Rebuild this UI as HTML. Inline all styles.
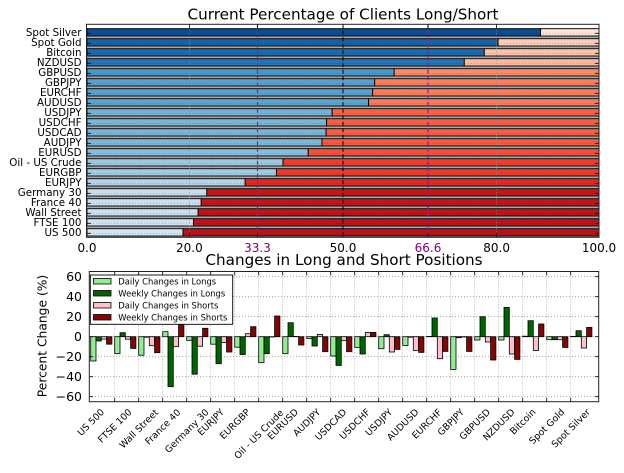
<!DOCTYPE html>
<html><head><meta charset="utf-8"><style>
html,body{margin:0;padding:0;background:#fff;}
svg{display:block;font-family:"DejaVu Sans","Liberation Sans",sans-serif;}
</style></head><body>
<svg width="624" height="473" viewBox="0 0 624 473" xmlns="http://www.w3.org/2000/svg">
<rect width="624" height="473" fill="#fff"/>
<!-- ===== TOP CHART ===== -->
<text x="343" y="19.5" font-size="15.2" text-anchor="middle" fill="#000">Current Percentage of Clients Long/Short</text>
<rect x="87" y="28.2" width="512" height="208.6" fill="#a9a9a9"/>
<g stroke="#000" stroke-width="0.9">
<rect x="87" y="28.7" width="453.6" height="7.3" fill="#084e98"/><rect x="540.6" y="28.7" width="58.4" height="7.3" fill="#fee2d5"/>
<rect x="87" y="38.7" width="411.1" height="7.3" fill="#1663aa"/><rect x="498.1" y="38.7" width="100.9" height="7.3" fill="#fdcbb6"/>
<rect x="87" y="48.7" width="397.3" height="7.3" fill="#1c6ab0"/><rect x="484.3" y="48.7" width="114.7" height="7.3" fill="#fcc3ab"/>
<rect x="87" y="58.7" width="377.3" height="7.3" fill="#2474b7"/><rect x="464.3" y="58.7" width="134.7" height="7.3" fill="#fcb79c"/>
<rect x="87" y="68.7" width="307.2" height="7.3" fill="#4a98c9"/><rect x="394.2" y="68.7" width="204.8" height="7.3" fill="#fc8a6a"/>
<rect x="87" y="78.7" width="287.7" height="7.3" fill="#57a0ce"/><rect x="374.7" y="78.7" width="224.3" height="7.3" fill="#fc7e5e"/>
<rect x="87" y="88.7" width="285.7" height="7.3" fill="#58a1cf"/><rect x="372.7" y="88.7" width="226.3" height="7.3" fill="#fc7d5d"/>
<rect x="87" y="98.7" width="281.6" height="7.3" fill="#5ba3d0"/><rect x="368.6" y="98.7" width="230.4" height="7.3" fill="#fb7a5a"/>
<rect x="87" y="108.7" width="245.2" height="7.3" fill="#74b3d8"/><rect x="332.2" y="108.7" width="266.8" height="7.3" fill="#f96245"/>
<rect x="87" y="118.7" width="239.6" height="7.3" fill="#78b5d9"/><rect x="326.6" y="118.7" width="272.4" height="7.3" fill="#f85e42"/>
<rect x="87" y="128.7" width="239.1" height="7.3" fill="#79b5d9"/><rect x="326.1" y="128.7" width="272.9" height="7.3" fill="#f85e42"/>
<rect x="87" y="138.7" width="235" height="7.3" fill="#7cb7da"/><rect x="322" y="138.7" width="277" height="7.3" fill="#f75a40"/>
<rect x="87" y="148.7" width="221.2" height="7.3" fill="#87bddc"/><rect x="308.2" y="148.7" width="290.8" height="7.3" fill="#f55039"/>
<rect x="87" y="158.7" width="196.1" height="7.3" fill="#9bc8e0"/><rect x="283.1" y="158.7" width="315.9" height="7.3" fill="#f03d2e"/>
<rect x="87" y="168.7" width="189.4" height="7.3" fill="#a0cbe2"/><rect x="276.4" y="168.7" width="322.6" height="7.3" fill="#ee3a2c"/>
<rect x="87" y="178.7" width="158.2" height="7.3" fill="#b3d3e8"/><rect x="245.2" y="178.7" width="353.8" height="7.3" fill="#e22924"/>
<rect x="87" y="188.7" width="119.8" height="7.3" fill="#c9ddf0"/><rect x="206.8" y="188.7" width="392.2" height="7.3" fill="#c6161b"/>
<rect x="87" y="198.7" width="114.2" height="7.3" fill="#cbdff1"/><rect x="201.2" y="198.7" width="397.8" height="7.3" fill="#c3151a"/>
<rect x="87" y="208.7" width="111.1" height="7.3" fill="#ccdff1"/><rect x="198.1" y="208.7" width="400.9" height="7.3" fill="#c1141a"/>
<rect x="87" y="218.7" width="106.5" height="7.3" fill="#cee0f2"/><rect x="193.5" y="218.7" width="405.5" height="7.3" fill="#be131a"/>
<rect x="87" y="228.7" width="96" height="7.3" fill="#d2e3f3"/><rect x="183" y="228.7" width="416" height="7.3" fill="#b81419"/>
</g>
<!-- horizontal dotted grid + side ticks -->
<g stroke="#000" stroke-opacity="0.3" stroke-width="0.6" stroke-dasharray="1,2">
<line x1="87" x2="599" y1="33.3" y2="33.3"/><line x1="87" x2="599" y1="43.3" y2="43.3"/><line x1="87" x2="599" y1="53.3" y2="53.3"/><line x1="87" x2="599" y1="63.3" y2="63.3"/><line x1="87" x2="599" y1="73.3" y2="73.3"/><line x1="87" x2="599" y1="83.3" y2="83.3"/><line x1="87" x2="599" y1="93.3" y2="93.3"/><line x1="87" x2="599" y1="103.3" y2="103.3"/><line x1="87" x2="599" y1="113.3" y2="113.3"/><line x1="87" x2="599" y1="123.3" y2="123.3"/><line x1="87" x2="599" y1="133.3" y2="133.3"/><line x1="87" x2="599" y1="143.3" y2="143.3"/><line x1="87" x2="599" y1="153.3" y2="153.3"/><line x1="87" x2="599" y1="163.3" y2="163.3"/><line x1="87" x2="599" y1="173.3" y2="173.3"/><line x1="87" x2="599" y1="183.3" y2="183.3"/><line x1="87" x2="599" y1="193.3" y2="193.3"/><line x1="87" x2="599" y1="203.3" y2="203.3"/><line x1="87" x2="599" y1="213.3" y2="213.3"/><line x1="87" x2="599" y1="223.3" y2="223.3"/><line x1="87" x2="599" y1="233.3" y2="233.3"/>
</g>
<g stroke="#888" stroke-width="0.8" stroke-dasharray="1,2">
<line x1="189.4" x2="189.4" y1="24.3" y2="237.3"/><line x1="496.6" x2="496.6" y1="24.3" y2="237.3"/>
</g>
<line x1="343" x2="343" y1="24.3" y2="237.3" stroke="#000" stroke-width="1" stroke-dasharray="4,2.5"/>
<line x1="257.5" x2="257.5" y1="24.3" y2="237.3" stroke="#882288" stroke-width="1.2" stroke-dasharray="4,2.5"/>
<line x1="428" x2="428" y1="24.3" y2="237.3" stroke="#882288" stroke-width="1.2" stroke-dasharray="4,2.5"/>
<g stroke="#000" stroke-width="0.8">
<line x1="87" x2="91" y1="33.3" y2="33.3"/><line x1="87" x2="91" y1="43.3" y2="43.3"/><line x1="87" x2="91" y1="53.3" y2="53.3"/><line x1="87" x2="91" y1="63.3" y2="63.3"/><line x1="87" x2="91" y1="73.3" y2="73.3"/><line x1="87" x2="91" y1="83.3" y2="83.3"/><line x1="87" x2="91" y1="93.3" y2="93.3"/><line x1="87" x2="91" y1="103.3" y2="103.3"/><line x1="87" x2="91" y1="113.3" y2="113.3"/><line x1="87" x2="91" y1="123.3" y2="123.3"/><line x1="87" x2="91" y1="133.3" y2="133.3"/><line x1="87" x2="91" y1="143.3" y2="143.3"/><line x1="87" x2="91" y1="153.3" y2="153.3"/><line x1="87" x2="91" y1="163.3" y2="163.3"/><line x1="87" x2="91" y1="173.3" y2="173.3"/><line x1="87" x2="91" y1="183.3" y2="183.3"/><line x1="87" x2="91" y1="193.3" y2="193.3"/><line x1="87" x2="91" y1="203.3" y2="203.3"/><line x1="87" x2="91" y1="213.3" y2="213.3"/><line x1="87" x2="91" y1="223.3" y2="223.3"/><line x1="87" x2="91" y1="233.3" y2="233.3"/>
<line x1="595" x2="599" y1="33.3" y2="33.3"/><line x1="595" x2="599" y1="43.3" y2="43.3"/><line x1="595" x2="599" y1="53.3" y2="53.3"/><line x1="595" x2="599" y1="63.3" y2="63.3"/><line x1="595" x2="599" y1="73.3" y2="73.3"/><line x1="595" x2="599" y1="83.3" y2="83.3"/><line x1="595" x2="599" y1="93.3" y2="93.3"/><line x1="595" x2="599" y1="103.3" y2="103.3"/><line x1="595" x2="599" y1="113.3" y2="113.3"/><line x1="595" x2="599" y1="123.3" y2="123.3"/><line x1="595" x2="599" y1="133.3" y2="133.3"/><line x1="595" x2="599" y1="143.3" y2="143.3"/><line x1="595" x2="599" y1="153.3" y2="153.3"/><line x1="595" x2="599" y1="163.3" y2="163.3"/><line x1="595" x2="599" y1="173.3" y2="173.3"/><line x1="595" x2="599" y1="183.3" y2="183.3"/><line x1="595" x2="599" y1="193.3" y2="193.3"/><line x1="595" x2="599" y1="203.3" y2="203.3"/><line x1="595" x2="599" y1="213.3" y2="213.3"/><line x1="595" x2="599" y1="223.3" y2="223.3"/><line x1="595" x2="599" y1="233.3" y2="233.3"/>
<line x1="189.4" x2="189.4" y1="237.3" y2="233.3"/><line x1="257.5" x2="257.5" y1="237.3" y2="233.3"/><line x1="343" x2="343" y1="237.3" y2="233.3"/><line x1="428" x2="428" y1="237.3" y2="233.3"/><line x1="496.6" x2="496.6" y1="237.3" y2="233.3"/>
<line x1="189.4" x2="189.4" y1="24.3" y2="28.3"/><line x1="257.5" x2="257.5" y1="24.3" y2="28.3"/><line x1="343" x2="343" y1="24.3" y2="28.3"/><line x1="428" x2="428" y1="24.3" y2="28.3"/><line x1="496.6" x2="496.6" y1="24.3" y2="28.3"/>
</g>
<rect x="86.5" y="24.3" width="512.5" height="213" fill="none" stroke="#222" stroke-width="1"/>
<g font-size="10.3" text-anchor="end" fill="#000">
<text x="81.5" y="36.1">Spot Silver</text><text x="81.5" y="46.1">Spot Gold</text><text x="81.5" y="56.1">Bitcoin</text><text x="81.5" y="66.1">NZDUSD</text><text x="81.5" y="76.1">GBPUSD</text><text x="81.5" y="86.1">GBPJPY</text><text x="81.5" y="96.1">EURCHF</text><text x="81.5" y="106.1">AUDUSD</text><text x="81.5" y="116.1">USDJPY</text><text x="81.5" y="126.1">USDCHF</text><text x="81.5" y="136.1">USDCAD</text><text x="81.5" y="146.1">AUDJPY</text><text x="81.5" y="156.1">EURUSD</text><text x="81.5" y="166.1">Oil - US Crude</text><text x="81.5" y="176.1">EURGBP</text><text x="81.5" y="186.1">EURJPY</text><text x="81.5" y="196.1">Germany 30</text><text x="81.5" y="206.1">France 40</text><text x="81.5" y="216.1">Wall Street</text><text x="81.5" y="226.1">FTSE 100</text><text x="81.5" y="236.1">US 500</text>
</g>
<g font-size="12" text-anchor="middle" fill="#000">
<text x="87" y="252">0.0</text><text x="189.4" y="252">20.0</text><text x="257.5" y="252" fill="#800080">33.3</text><text x="343" y="252">50.0</text><text x="428" y="252" fill="#800080">66.6</text><text x="496.6" y="252">80.0</text><text x="599" y="252">100.0</text>
</g>
<!-- ===== BOTTOM CHART ===== -->
<text x="344" y="265" font-size="15.2" text-anchor="middle" fill="#000">Changes in Long and Short Positions</text>
<g stroke="#999" stroke-width="0.8" stroke-dasharray="1,2">
<line x1="89" x2="599" y1="276.7" y2="276.7"/><line x1="89" x2="599" y1="296.7" y2="296.7"/><line x1="89" x2="599" y1="316.7" y2="316.7"/><line x1="89" x2="599" y1="336.7" y2="336.7"/><line x1="89" x2="599" y1="356.7" y2="356.7"/><line x1="89" x2="599" y1="376.7" y2="376.7"/><line x1="89" x2="599" y1="396.7" y2="396.7"/>
<line x1="114.7" x2="114.7" y1="271.5" y2="401.7"/><line x1="138.7" x2="138.7" y1="271.5" y2="401.7"/><line x1="162.7" x2="162.7" y1="271.5" y2="401.7"/><line x1="186.7" x2="186.7" y1="271.5" y2="401.7"/><line x1="210.7" x2="210.7" y1="271.5" y2="401.7"/><line x1="234.7" x2="234.7" y1="271.5" y2="401.7"/><line x1="258.7" x2="258.7" y1="271.5" y2="401.7"/><line x1="282.7" x2="282.7" y1="271.5" y2="401.7"/><line x1="306.7" x2="306.7" y1="271.5" y2="401.7"/><line x1="330.7" x2="330.7" y1="271.5" y2="401.7"/><line x1="354.7" x2="354.7" y1="271.5" y2="401.7"/><line x1="378.7" x2="378.7" y1="271.5" y2="401.7"/><line x1="402.7" x2="402.7" y1="271.5" y2="401.7"/><line x1="426.7" x2="426.7" y1="271.5" y2="401.7"/><line x1="450.7" x2="450.7" y1="271.5" y2="401.7"/><line x1="474.7" x2="474.7" y1="271.5" y2="401.7"/><line x1="498.7" x2="498.7" y1="271.5" y2="401.7"/><line x1="522.7" x2="522.7" y1="271.5" y2="401.7"/><line x1="546.7" x2="546.7" y1="271.5" y2="401.7"/><line x1="570.7" x2="570.7" y1="271.5" y2="401.7"/>
</g>
<g stroke="#000" stroke-width="0.8">
<g transform="translate(90.7,336.7)"><rect x="0" y="0" width="5.3" height="24.3" fill="#90ee90"/><rect x="5.3" y="0" width="5.3" height="4.3" fill="#006400"/><rect x="10.6" y="0" width="5.3" height="2.4" fill="#ffc0cb"/><rect x="15.9" y="0" width="5.3" height="7.5" fill="#8b0000"/></g>
<g transform="translate(114.7,336.7)"><rect x="0" y="0" width="5.3" height="17" fill="#90ee90"/><rect x="5.3" y="-4" width="5.3" height="4" fill="#006400"/><rect x="10.6" y="0" width="5.3" height="2.5" fill="#ffc0cb"/><rect x="15.9" y="0" width="5.3" height="11.7" fill="#8b0000"/></g>
<g transform="translate(138.7,336.7)"><rect x="0" y="0" width="5.3" height="18.5" fill="#90ee90"/><rect x="5.3" y="0" width="5.3" height="0.5" fill="#006400"/><rect x="10.6" y="0" width="5.3" height="9" fill="#ffc0cb"/><rect x="15.9" y="0" width="5.3" height="16" fill="#8b0000"/></g>
<g transform="translate(162.7,336.7)"><rect x="0" y="-5" width="5.3" height="5" fill="#90ee90"/><rect x="5.3" y="0" width="5.3" height="50" fill="#006400"/><rect x="10.6" y="0" width="5.3" height="10" fill="#ffc0cb"/><rect x="15.9" y="-12.4" width="5.3" height="12.4" fill="#8b0000"/></g>
<g transform="translate(186.7,336.7)"><rect x="0" y="0" width="5.3" height="3.6" fill="#90ee90"/><rect x="5.3" y="0" width="5.3" height="37.5" fill="#006400"/><rect x="10.6" y="0" width="5.3" height="9.5" fill="#ffc0cb"/><rect x="15.9" y="-8.4" width="5.3" height="8.4" fill="#8b0000"/></g>
<g transform="translate(210.7,336.7)"><rect x="0" y="0" width="5.3" height="7.5" fill="#90ee90"/><rect x="5.3" y="0" width="5.3" height="27" fill="#006400"/><rect x="10.6" y="0" width="5.3" height="5.8" fill="#ffc0cb"/><rect x="15.9" y="0" width="5.3" height="15.3" fill="#8b0000"/></g>
<g transform="translate(234.7,336.7)"><rect x="0" y="0" width="5.3" height="10.5" fill="#90ee90"/><rect x="5.3" y="0" width="5.3" height="17.8" fill="#006400"/><rect x="10.6" y="-3" width="5.3" height="3" fill="#ffc0cb"/><rect x="15.9" y="-10" width="5.3" height="10" fill="#8b0000"/></g>
<g transform="translate(258.7,336.7)"><rect x="0" y="0" width="5.3" height="26" fill="#90ee90"/><rect x="5.3" y="0" width="5.3" height="17" fill="#006400"/><rect x="10.6" y="0" width="5.3" height="0.3" fill="#ffc0cb"/><rect x="15.9" y="-20.7" width="5.3" height="20.7" fill="#8b0000"/></g>
<g transform="translate(282.7,336.7)"><rect x="0" y="0" width="5.3" height="17" fill="#90ee90"/><rect x="5.3" y="-14" width="5.3" height="14" fill="#006400"/><rect x="10.6" y="-0.3" width="5.3" height="0.3" fill="#ffc0cb"/><rect x="15.9" y="0" width="5.3" height="8.3" fill="#8b0000"/></g>
<g transform="translate(306.7,336.7)"><rect x="0" y="0" width="5.3" height="2" fill="#90ee90"/><rect x="5.3" y="0" width="5.3" height="9.3" fill="#006400"/><rect x="10.6" y="-2.3" width="5.3" height="2.3" fill="#ffc0cb"/><rect x="15.9" y="0" width="5.3" height="15" fill="#8b0000"/></g>
<g transform="translate(330.7,336.7)"><rect x="0" y="0" width="5.3" height="19.3" fill="#90ee90"/><rect x="5.3" y="0" width="5.3" height="28.7" fill="#006400"/><rect x="10.6" y="0" width="5.3" height="4" fill="#ffc0cb"/><rect x="15.9" y="0" width="5.3" height="15" fill="#8b0000"/></g>
<g transform="translate(354.7,336.7)"><rect x="0" y="0" width="5.3" height="10.7" fill="#90ee90"/><rect x="5.3" y="0" width="5.3" height="17.3" fill="#006400"/><rect x="10.6" y="-4.3" width="5.3" height="4.3" fill="#ffc0cb"/><rect x="15.9" y="-4.3" width="5.3" height="4.3" fill="#8b0000"/></g>
<g transform="translate(378.7,336.7)"><rect x="0" y="0" width="5.3" height="12" fill="#90ee90"/><rect x="5.3" y="-2" width="5.3" height="2" fill="#006400"/><rect x="10.6" y="0" width="5.3" height="15.3" fill="#ffc0cb"/><rect x="15.9" y="0" width="5.3" height="12.7" fill="#8b0000"/></g>
<g transform="translate(402.7,336.7)"><rect x="0" y="0" width="5.3" height="8.7" fill="#90ee90"/><rect x="5.3" y="0" width="5.3" height="0.5" fill="#006400"/><rect x="10.6" y="0" width="5.3" height="13.7" fill="#ffc0cb"/><rect x="15.9" y="0" width="5.3" height="15.7" fill="#8b0000"/></g>
<g transform="translate(426.7,336.7)"><rect x="0" y="-0.3" width="5.3" height="0.3" fill="#90ee90"/><rect x="5.3" y="-18.7" width="5.3" height="18.7" fill="#006400"/><rect x="10.6" y="0" width="5.3" height="22" fill="#ffc0cb"/><rect x="15.9" y="0" width="5.3" height="14.7" fill="#8b0000"/></g>
<g transform="translate(450.7,336.7)"><rect x="0" y="0" width="5.3" height="32.7" fill="#90ee90"/><rect x="5.3" y="0" width="5.3" height="1" fill="#006400"/><rect x="10.6" y="0" width="5.3" height="0.3" fill="#ffc0cb"/><rect x="15.9" y="0" width="5.3" height="14.7" fill="#8b0000"/></g>
<g transform="translate(474.7,336.7)"><rect x="0" y="0" width="5.3" height="3.3" fill="#90ee90"/><rect x="5.3" y="-20" width="5.3" height="20" fill="#006400"/><rect x="10.6" y="0" width="5.3" height="5.3" fill="#ffc0cb"/><rect x="15.9" y="0" width="5.3" height="23.3" fill="#8b0000"/></g>
<g transform="translate(498.7,336.7)"><rect x="0" y="0" width="5.3" height="3.3" fill="#90ee90"/><rect x="5.3" y="-29.3" width="5.3" height="29.3" fill="#006400"/><rect x="10.6" y="0" width="5.3" height="17.3" fill="#ffc0cb"/><rect x="15.9" y="0" width="5.3" height="22.7" fill="#8b0000"/></g>
<g transform="translate(522.7,336.7)"><rect x="0" y="-0.5" width="5.3" height="0.5" fill="#90ee90"/><rect x="5.3" y="-16" width="5.3" height="16" fill="#006400"/><rect x="10.6" y="0" width="5.3" height="13.7" fill="#ffc0cb"/><rect x="15.9" y="-12.7" width="5.3" height="12.7" fill="#8b0000"/></g>
<g transform="translate(546.7,336.7)"><rect x="0" y="0" width="5.3" height="3" fill="#90ee90"/><rect x="5.3" y="0" width="5.3" height="3" fill="#006400"/><rect x="10.6" y="0" width="5.3" height="3" fill="#ffc0cb"/><rect x="15.9" y="0" width="5.3" height="10.7" fill="#8b0000"/></g>
<g transform="translate(570.7,336.7)"><rect x="0" y="-0.3" width="5.3" height="0.3" fill="#90ee90"/><rect x="5.3" y="-6" width="5.3" height="6" fill="#006400"/><rect x="10.6" y="0" width="5.3" height="11.3" fill="#ffc0cb"/><rect x="15.9" y="-9.3" width="5.3" height="9.3" fill="#8b0000"/></g>
</g>
<!-- ticks -->
<g stroke="#000" stroke-width="0.8">
<line x1="89" x2="93" y1="276.7" y2="276.7"/><line x1="89" x2="93" y1="296.7" y2="296.7"/><line x1="89" x2="93" y1="316.7" y2="316.7"/><line x1="89" x2="93" y1="336.7" y2="336.7"/><line x1="89" x2="93" y1="356.7" y2="356.7"/><line x1="89" x2="93" y1="376.7" y2="376.7"/><line x1="89" x2="93" y1="396.7" y2="396.7"/>
<line x1="595" x2="599" y1="276.7" y2="276.7"/><line x1="595" x2="599" y1="296.7" y2="296.7"/><line x1="595" x2="599" y1="316.7" y2="316.7"/><line x1="595" x2="599" y1="336.7" y2="336.7"/><line x1="595" x2="599" y1="356.7" y2="356.7"/><line x1="595" x2="599" y1="376.7" y2="376.7"/><line x1="595" x2="599" y1="396.7" y2="396.7"/>
<line x1="114.7" x2="114.7" y1="401.7" y2="397.7"/><line x1="138.7" x2="138.7" y1="401.7" y2="397.7"/><line x1="162.7" x2="162.7" y1="401.7" y2="397.7"/><line x1="186.7" x2="186.7" y1="401.7" y2="397.7"/><line x1="210.7" x2="210.7" y1="401.7" y2="397.7"/><line x1="234.7" x2="234.7" y1="401.7" y2="397.7"/><line x1="258.7" x2="258.7" y1="401.7" y2="397.7"/><line x1="282.7" x2="282.7" y1="401.7" y2="397.7"/><line x1="306.7" x2="306.7" y1="401.7" y2="397.7"/><line x1="330.7" x2="330.7" y1="401.7" y2="397.7"/><line x1="354.7" x2="354.7" y1="401.7" y2="397.7"/><line x1="378.7" x2="378.7" y1="401.7" y2="397.7"/><line x1="402.7" x2="402.7" y1="401.7" y2="397.7"/><line x1="426.7" x2="426.7" y1="401.7" y2="397.7"/><line x1="450.7" x2="450.7" y1="401.7" y2="397.7"/><line x1="474.7" x2="474.7" y1="401.7" y2="397.7"/><line x1="498.7" x2="498.7" y1="401.7" y2="397.7"/><line x1="522.7" x2="522.7" y1="401.7" y2="397.7"/><line x1="546.7" x2="546.7" y1="401.7" y2="397.7"/><line x1="570.7" x2="570.7" y1="401.7" y2="397.7"/>
<line x1="114.7" x2="114.7" y1="271.5" y2="275.5"/><line x1="138.7" x2="138.7" y1="271.5" y2="275.5"/><line x1="162.7" x2="162.7" y1="271.5" y2="275.5"/><line x1="186.7" x2="186.7" y1="271.5" y2="275.5"/><line x1="210.7" x2="210.7" y1="271.5" y2="275.5"/><line x1="234.7" x2="234.7" y1="271.5" y2="275.5"/><line x1="258.7" x2="258.7" y1="271.5" y2="275.5"/><line x1="282.7" x2="282.7" y1="271.5" y2="275.5"/><line x1="306.7" x2="306.7" y1="271.5" y2="275.5"/><line x1="330.7" x2="330.7" y1="271.5" y2="275.5"/><line x1="354.7" x2="354.7" y1="271.5" y2="275.5"/><line x1="378.7" x2="378.7" y1="271.5" y2="275.5"/><line x1="402.7" x2="402.7" y1="271.5" y2="275.5"/><line x1="426.7" x2="426.7" y1="271.5" y2="275.5"/><line x1="450.7" x2="450.7" y1="271.5" y2="275.5"/><line x1="474.7" x2="474.7" y1="271.5" y2="275.5"/><line x1="498.7" x2="498.7" y1="271.5" y2="275.5"/><line x1="522.7" x2="522.7" y1="271.5" y2="275.5"/><line x1="546.7" x2="546.7" y1="271.5" y2="275.5"/><line x1="570.7" x2="570.7" y1="271.5" y2="275.5"/>
</g>
<!-- legend -->
<rect x="90.3" y="275" width="142.4" height="49.3" fill="#fff" stroke="#000" stroke-width="0.9"/>
<g stroke="#000" stroke-width="0.8">
<rect x="93.5" y="278.5" width="17.5" height="5.5" fill="#90ee90"/>
<rect x="93.5" y="290.5" width="17.5" height="5.5" fill="#006400"/>
<rect x="93.5" y="302.5" width="17.5" height="5.5" fill="#ffc0cb"/>
<rect x="93.5" y="314.5" width="17.5" height="5.5" fill="#8b0000"/>
</g>
<g font-size="8.4" fill="#000">
<text x="118.3" y="284.3">Daily Changes in Longs</text>
<text x="118.3" y="296.3">Weekly Changes in Longs</text>
<text x="118.3" y="308.3">Daily Changes in Shorts</text>
<text x="118.3" y="320.3">Weekly Changes in Shorts</text>
</g>
<rect x="89.3" y="271.5" width="509.4" height="130.2" fill="none" stroke="#222" stroke-width="1"/>
<g font-size="12.5" text-anchor="end" fill="#000">
<text x="82" y="281.2">60</text><text x="82" y="301.2">40</text><text x="82" y="321.2">20</text><text x="82" y="341.2">0</text><text x="82" y="361.2">−20</text><text x="82" y="381.2">−40</text><text x="82" y="401.2">−60</text>
</g>
<text transform="translate(46.5,336) rotate(-90)" font-size="12.3" text-anchor="middle" fill="#000">Percent Change (%)</text>
<g font-size="9.3" text-anchor="middle" fill="#000">
<text transform="translate(90.7,422.2) rotate(-45)" dy="0.35em">US 500</text>
<text transform="translate(114.7,425.7) rotate(-45)" dy="0.35em">FTSE 100</text>
<text transform="translate(138.7,428.6) rotate(-45)" dy="0.35em">Wall Street</text>
<text transform="translate(162.7,426.8) rotate(-45)" dy="0.35em">France 40</text>
<text transform="translate(186.7,430.8) rotate(-45)" dy="0.35em">Germany 30</text>
<text transform="translate(210.7,422.1) rotate(-45)" dy="0.35em">EURJPY</text>
<text transform="translate(234.7,423.9) rotate(-45)" dy="0.35em">EURGBP</text>
<text transform="translate(258.7,434.1) rotate(-45)" dy="0.35em">Oil - US Crude</text>
<text transform="translate(282.7,424.1) rotate(-45)" dy="0.35em">EURUSD</text>
<text transform="translate(306.7,422.5) rotate(-45)" dy="0.35em">AUDJPY</text>
<text transform="translate(330.7,424.5) rotate(-45)" dy="0.35em">USDCAD</text>
<text transform="translate(354.7,424.0) rotate(-45)" dy="0.35em">USDCHF</text>
<text transform="translate(378.7,422.3) rotate(-45)" dy="0.35em">USDJPY</text>
<text transform="translate(402.7,424.6) rotate(-45)" dy="0.35em">AUDUSD</text>
<text transform="translate(426.7,423.8) rotate(-45)" dy="0.35em">EURCHF</text>
<text transform="translate(450.7,422.1) rotate(-45)" dy="0.35em">GBPJPY</text>
<text transform="translate(474.7,424.2) rotate(-45)" dy="0.35em">GBPUSD</text>
<text transform="translate(498.7,424.6) rotate(-45)" dy="0.35em">NZDUSD</text>
<text transform="translate(522.7,421.6) rotate(-45)" dy="0.35em">Bitcoin</text>
<text transform="translate(546.7,426.4) rotate(-45)" dy="0.35em">Spot Gold</text>
<text transform="translate(570.7,428.1) rotate(-45)" dy="0.35em">Spot Silver</text>
</g>
</svg>
</body></html>
